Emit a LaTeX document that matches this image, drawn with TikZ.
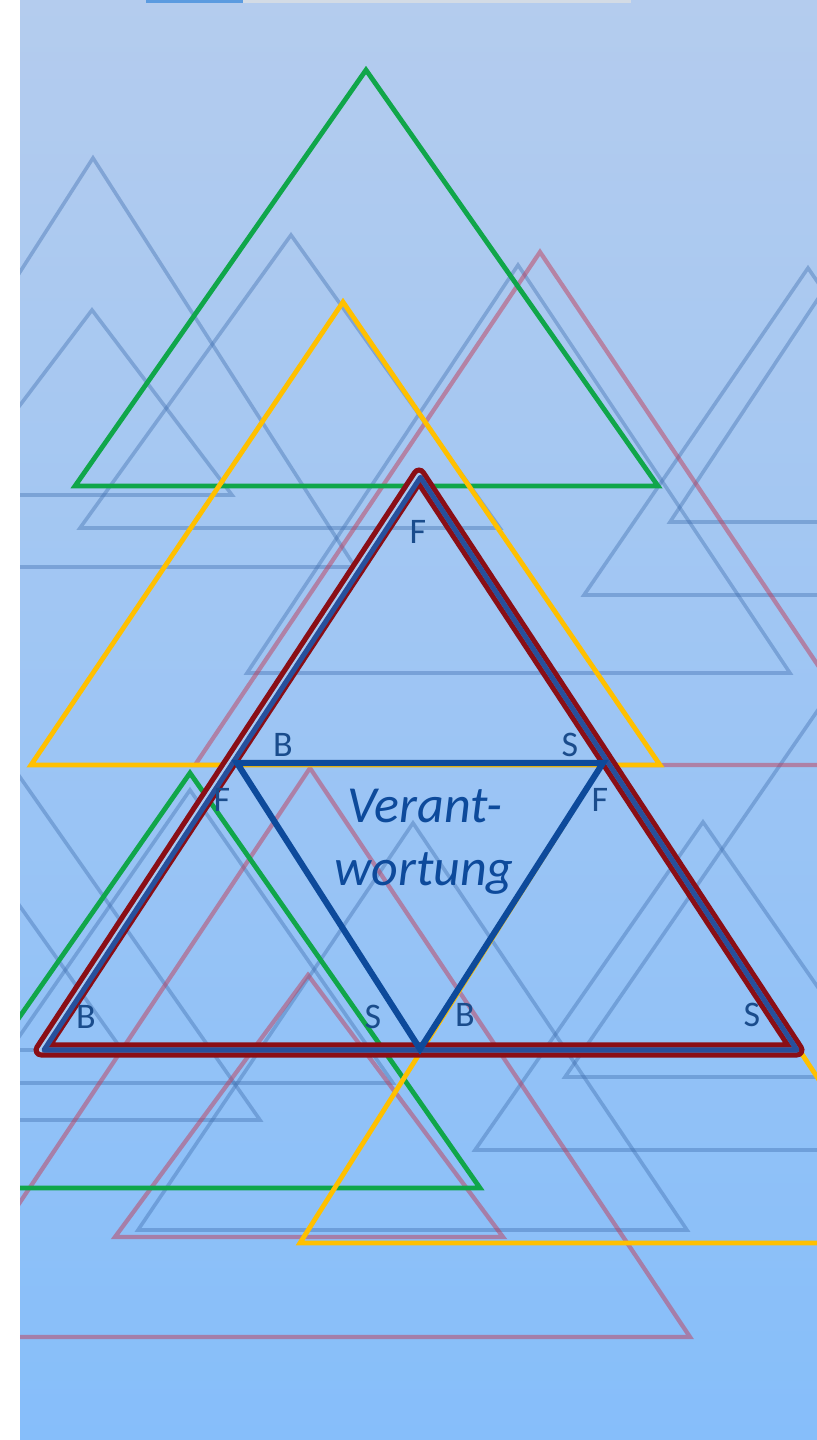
\documentclass[tikz,border=0pt]{standalone}
\usepackage{fontspec}
\newfontfamily\carl{Carlito}
\definecolor{bgtop}{HTML}{B4CCEE}
\definecolor{bgmid}{HTML}{A4C9F3}
\definecolor{bgbot}{HTML}{86BEFA}
\definecolor{gapcol}{HTML}{A9CBF3}
\definecolor{fblue}{HTML}{3E6DAE}
\definecolor{fpink}{HTML}{C03E5A}
\definecolor{tgreen}{HTML}{10A64A}
\definecolor{tyellow}{HTML}{FFC000}
\definecolor{dred}{HTML}{8A0E16}
\definecolor{rblue}{HTML}{27509C}
\definecolor{vblue}{HTML}{0D4A9B}
\definecolor{lblue}{HTML}{1A4C8C}
\definecolor{topblue}{HTML}{5B9BE0}
\definecolor{topgrey}{HTML}{D3DBE5}
\newcommand\tri[4]{\draw[#1] #2 -- #3 -- #4 -- cycle;}
\tikzset{
  faint/.style={draw=fblue, draw opacity=0.4, line width=2.7pt, line join=miter},
  pinkl/.style={draw=fpink, draw opacity=0.5, line width=3.2pt, line join=miter},
  greenl/.style={draw=tgreen, line width=3.6pt, line join=miter},
  yell/.style={draw=tyellow, line width=3.6pt, line join=miter},
  redwide/.style={draw=dred, line width=11.3pt, line join=round},
  redgap/.style={draw=gapcol, line width=3.4pt, line join=round},
  bluecore/.style={draw=rblue, line width=3.8pt, line join=round},
  invblue/.style={draw=vblue, line width=4.6pt, line join=miter},
  lbl/.style={text=lblue, font=\carl\fontsize{27}{30}\selectfont, inner sep=0pt},
  bigtxt/.style={text=vblue, font=\carl\itshape\fontsize{39}{47}\selectfont, inner sep=0pt, anchor=base}
}
\begin{document}
\begin{tikzpicture}[x=0.75pt,y=-0.75pt]
\useasboundingbox (0,0) rectangle (817,1440);
\clip (0,0) rectangle (817,1440);
% background
\shade[top color=bgtop, middle color=bgmid, bottom color=bgbot] (0,0) rectangle (817,1440);
% top strip
\fill[topblue] (146,0) rectangle (243,3);
\fill[topgrey] (243,0) rectangle (631,3);
% faint blue triangles
\tri{faint}{(93,158)}{(355,567)}{(-169,567)}
\tri{faint}{(92,310)}{(232,495)}{(-48,495)}
\tri{faint}{(291,235)}{(500,528)}{(80,528)}
\tri{faint}{(518,265)}{(790,673)}{(247,673)}
\tri{faint}{(808,268)}{(1032,595)}{(584,595)}
\tri{faint}{(845,258)}{(1020,522)}{(670,522)}
\tri{faint}{(413,823)}{(687,1230)}{(138,1230)}
\tri{faint}{(703,822)}{(931,1150)}{(475,1150)}
\tri{faint}{(880,620)}{(1195,1077)}{(565,1077)}
\tri{faint}{(190,790)}{(393,1083)}{(-13,1083)}
\tri{faint}{(8,760)}{(260,1120)}{(-244,1120)}
\tri{faint}{(-20,850)}{(122,1050)}{(-162,1050)}
% pink triangles
\tri{pinkl}{(540,252)}{(885,765)}{(195,765)}
\tri{pinkl}{(310,768)}{(690,1337)}{(-70,1337)}
\tri{pinkl}{(308,975)}{(503,1237)}{(115,1237)}
% green and yellow
\tri{greenl}{(366,70)}{(658,486)}{(75,486)}
\tri{greenl}{(190,773)}{(480,1188)}{(-100,1188)}
\tri{yell}{(343,302)}{(660,765)}{(31,765)}
\tri{yell}{(606,758)}{(927,1243)}{(300,1243)}
% main triangle
\tri{redwide}{(419,475)}{(797,1050)}{(41,1050)}
\tri{redgap}{(419,475)}{(797,1050)}{(41,1050)}
\tri{bluecore}{(420.5,477.3)}{(797,1050)}{(44,1050)}
% inverted blue triangle
\tri{invblue}{(237,763)}{(603,763)}{(420,1049)}
% labels
\node[lbl] (f1) at (418,532) {F};
\node[lbl] (b1) at (283,745) {B};
\node[lbl] (s1) at (570,745) {S};
\node[lbl] (f2) at (222,800) {F};
\node[lbl] (f3) at (600,800) {F};
\node[lbl] (b2) at (86,1017) {B};
\node[lbl] (s2) at (373,1017) {S};
\node[lbl] (b3) at (465,1015) {B};
\node[lbl] (s3) at (752,1015) {S};
\node[bigtxt] (ver1) at (425,822) {Verant-};
\node[bigtxt] (ver2) at (424,885) {wortung};
% white strip
\fill[white] (0,0) rectangle (20,1440);
\end{tikzpicture}
\end{document}
